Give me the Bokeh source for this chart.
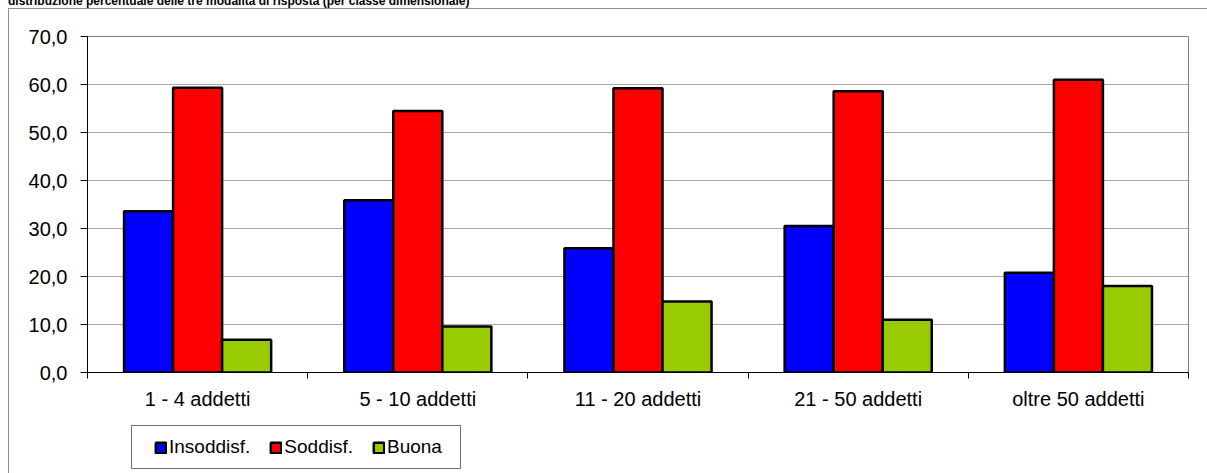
from bokeh.plotting import figure
from bokeh.models import (ColumnDataSource, Range1d, FixedTicker, Legend, LegendItem, Div)
from bokeh.layouts import column
from bokeh.transform import dodge
from bokeh.embed import file_html
from bokeh.resources import INLINE

title_text = "distribuzione percentuale delle tre modalità di risposta (per classe dimensionale)"
categories = ["1 - 4 addetti", "5 - 10 addetti", "11 - 20 addetti", "21 - 50 addetti", "oltre 50 addetti"]
insoddisf = [33.6, 35.9, 25.9, 30.5, 20.8]
soddisf = [59.3, 54.5, 59.2, 58.6, 61.0]
buona = [6.8, 9.6, 14.8, 11.0, 18.0]
series_names = ["Insoddisf.", "Soddisf.", "Buona"]
series_colors = ["#0000FF", "#FF0000", "#99CC00"]
y_ticks = [0, 10, 20, 30, 40, 50, 60, 70]
y_tick_labels = ["0,0", "10,0", "20,0", "30,0", "40,0", "50,0", "60,0", "70,0"]

FONT = "Liberation Sans"
xi = list(range(len(categories)))
source = ColumnDataSource(dict(xi=xi, ins=insoddisf, sod=soddisf, buo=buona))
cols = ["ins", "sod", "buo"]

p = figure(width=1207, height=465, output_backend="svg", toolbar_location=None,
           x_range=Range1d(-0.5, len(categories) - 0.5), y_range=Range1d(0, 70),
           min_border_left=87, min_border_right=19, min_border_top=28, min_border_bottom=101)
p.background_fill_color = "white"
p.border_fill_color = None
p.outline_line_color = "#808080"
p.outline_line_width = 1

bw = 0.2227
for col, off, color in zip(cols, [-bw, 0, bw], series_colors):
    p.vbar(x=dodge("xi", off, range=p.x_range), top=col, width=bw, bottom=0,
           source=source, fill_color=color, line_color="black", line_width=2.5)

# axes
p.xaxis.ticker = FixedTicker(ticks=xi, minor_ticks=[i - 0.5 for i in range(len(categories) + 1)])
p.xaxis.major_label_overrides = {i: c for i, c in zip(xi, categories)}
p.xaxis.major_tick_out = 0
p.xaxis.major_tick_in = 0
p.xaxis.minor_tick_out = 6
p.xaxis.minor_tick_in = 0
p.xaxis.minor_tick_line_color = "black"
p.xaxis.major_label_standoff = 9

p.yaxis.ticker = FixedTicker(ticks=y_ticks, minor_ticks=[])
p.yaxis.major_label_overrides = {t: l for t, l in zip(y_ticks, y_tick_labels)}
p.yaxis.major_tick_out = 7
p.yaxis.major_tick_in = 0
p.yaxis.major_label_standoff = 13

for ax in (p.xaxis, p.yaxis):
    ax.axis_line_color = "black"
    ax.axis_line_width = 1
    ax.major_tick_line_color = "black"
    ax.major_label_text_font = FONT
    ax.major_label_text_font_size = "20px"
    ax.major_label_text_color = "black"

p.xgrid.grid_line_color = None
p.ygrid.ticker = FixedTicker(ticks=y_ticks)
p.ygrid.grid_line_color = "#505050"
p.ygrid.grid_line_dash = "1 1"
p.ygrid.grid_line_width = 1

# legend: a small figure placed under the x axis; its bars use the same data but lie outside its view
pl = figure(width=330, height=44, output_backend="svg", toolbar_location=None,
            x_range=Range1d(100, 101), y_range=Range1d(100, 101),
            x_axis_location=None, y_axis_location=None,
            min_border_left=0, min_border_right=0, min_border_top=0, min_border_bottom=0,
            styles={"position": "absolute", "left": "131px", "top": "425px"})
pl.grid.visible = False
pl.outline_line_color = None
pl.background_fill_color = "white"
pl.border_fill_color = None
leg_renderers = [pl.vbar(x="xi", top=col, width=0.1, source=source, fill_color=c,
                         line_color="black", line_width=2.5)
                 for col, c in zip(cols, series_colors)]
items = [LegendItem(label=n, renderers=[r]) for n, r in zip(series_names, leg_renderers)]
legend = Legend(items=items, orientation="horizontal", location=(23, 11),
                padding=0, margin=0, spacing=19, label_standoff=2,
                glyph_width=13, glyph_height=13,
                label_text_font=FONT, label_text_font_size="19px", label_text_color="black",
                border_line_color=None, background_fill_alpha=0)
pl.add_layout(legend, "center")

for fig in (p, pl):
    if "frame_align" in fig.properties():
        fig.frame_align = False

title = Div(text=title_text, width=700, height=13, margin=(-5, 0, 0, 8),
            styles={"font-family": FONT, "font-weight": "bold", "font-size": "12px",
                    "line-height": "12px", "color": "black", "white-space": "nowrap"})

legend_box = Div(text="", width=330, height=44, margin=0,
                 styles={"position": "absolute", "left": "131px", "top": "425px",
                         "width": "330px", "height": "44px", "box-sizing": "border-box",
                         "border": "1px solid #707070", "pointer-events": "none"})

outer_box = Div(text="", width=1199, height=465, margin=0,
                styles={"position": "absolute", "left": "8px", "top": "8px",
                        "width": "1199px", "height": "465px", "box-sizing": "border-box",
                        "border-top": "1px solid #909090", "border-left": "1px solid #909090",
                        "pointer-events": "none"})

layout = column(title, p, pl, legend_box, outer_box, spacing=0)
open("out.html", "w").write(file_html(layout, INLINE))
